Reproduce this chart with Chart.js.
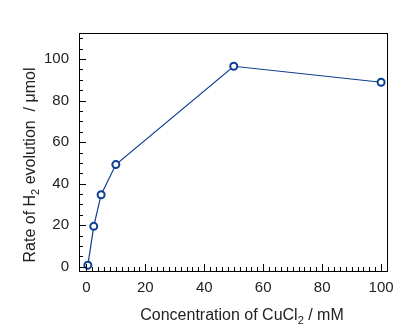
<!DOCTYPE html>
<html>
<head>
<meta charset="utf-8">
<script src="https://cdn.jsdelivr.net/npm/chart.js@4"></script>
<style>
  html, body { margin: 0; padding: 0; background: #fff; }
  #wrap { width: 410px; height: 328px; }
</style>
</head>
<body>
<div id="wrap"><canvas id="rateChart"></canvas></div>
<script>
// CuCl2 concentration (mM) vs H2 evolution (umol)
const concentration = [0.5, 2.5, 5, 10, 50, 100];
const h2Rate = [0.8, 19.5, 34.7, 49.2, 96.5, 88.8];
const xTicks = [0, 20, 40, 60, 80, 100];
const yTicks = [0, 20, 40, 60, 80, 100];
const xMinorStep = 2;
const yMinorStep = 5;

const lineColor = "#0b3f92";
const FONT = "'Liberation Sans', Arial, sans-serif";

// frame, inward ticks and axis titles with subscripts
const framePlugin = {
  id: "frame",
  afterDraw(chart) {
    const ctx = chart.ctx;
    const a = chart.chartArea;
    const xs = chart.scales.x, ys = chart.scales.y;
    ctx.save();
    ctx.strokeStyle = "#000";
    ctx.lineWidth = 1;
    ctx.strokeRect(Math.round(a.left) + 0.5, Math.round(a.top) + 0.5,
                   Math.round(a.right - a.left), Math.round(a.bottom - a.top));

    ctx.beginPath();
    for (let v = 0; v <= xs.max; v += xMinorStep) {
      const px = Math.round(xs.getPixelForValue(v)) + 0.5;
      const len = v % 20 === 0 ? 7 : 4;
      ctx.moveTo(px, a.bottom);
      ctx.lineTo(px, a.bottom - len);
    }
    for (let v = 0; v <= ys.max; v += yMinorStep) {
      const py = Math.round(ys.getPixelForValue(v)) + 0.5;
      const len = v % 20 === 0 ? 7 : 4;
      ctx.moveTo(a.left, py);
      ctx.lineTo(a.left + len, py);
    }
    ctx.stroke();

    ctx.fillStyle = "#222";
    ctx.textBaseline = "alphabetic";
    drawSubText(ctx, ["Concentration of CuCl", "2", " / mM"], 242, 320);

    ctx.translate(35, 165);
    ctx.rotate(-Math.PI / 2);
    drawSubText(ctx, ["Rate of H", "2", " evolution  / \u03bcmol"], 0, 0);
    ctx.restore();
  }
};

function drawSubText(ctx, parts, cx, y) {
  const big = "16px " + FONT, small = "11px " + FONT;
  ctx.font = big; const w0 = ctx.measureText(parts[0]).width;
  ctx.font = small; const w1 = ctx.measureText(parts[1]).width;
  ctx.font = big; const w2 = ctx.measureText(parts[2]).width;
  let x = cx - (w0 + w1 + w2) / 2;
  ctx.textAlign = "left";
  ctx.font = big; ctx.fillText(parts[0], x, y); x += w0;
  ctx.font = small; ctx.fillText(parts[1], x, y + 4); x += w1;
  ctx.font = big; ctx.fillText(parts[2], x, y);
}

new Chart(document.getElementById("rateChart"), {
  type: "line",
  data: {
    datasets: [{
      data: concentration.map((c, i) => ({ x: c, y: h2Rate[i] })),
      borderColor: lineColor,
      borderWidth: 1.2,
      pointRadius: 3.5,
      pointBorderWidth: 2,
      pointBorderColor: lineColor,
      pointBackgroundColor: "#fff",
      tension: 0
    }]
  },
  options: {
    responsive: true,
    maintainAspectRatio: false,
    animation: false,
    layout: { padding: { top: 33, right: 23, left: 0, bottom: 0 } },
    plugins: { legend: { display: false }, tooltip: { enabled: false } },
    scales: {
      x: {
        type: "linear",
        min: -2.5, max: 102,
        afterBuildTicks: s => { s.ticks = xTicks.map(v => ({ value: v })); },
        afterFit: s => { s.height = 57; },
        grid: { display: false, drawTicks: false },
        border: { display: false },
        ticks: { padding: 8, color: "#222", font: { family: FONT, size: 15 }, maxRotation: 0 }
      },
      y: {
        type: "linear",
        min: -2, max: 112.5,
        afterBuildTicks: s => { s.ticks = yTicks.map(v => ({ value: v })); },
        afterFit: s => { s.width = 79; },
        grid: { display: false, drawTicks: false },
        border: { display: false },
        ticks: { padding: 10, color: "#222", font: { family: FONT, size: 15 } }
      }
    }
  },
  plugins: [framePlugin]
});
</script>
</body>
</html>
